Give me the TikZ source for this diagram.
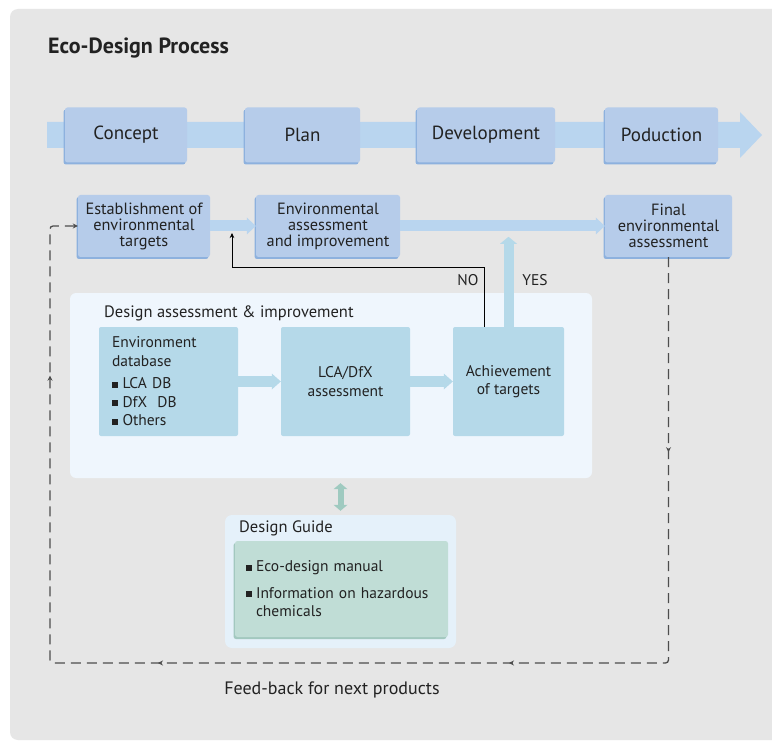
\documentclass[tikz,border=0pt]{standalone}
\usepackage{fontspec}
\setmainfont{PT Sans}
\usetikzlibrary{arrows.meta,shadows,decorations.markings}
\definecolor{bggrey}{HTML}{E6E6E6}
\definecolor{phaseblue}{HTML}{B6CCEA}
\definecolor{phaseedge}{HTML}{8DB1DE}
\definecolor{bandblue}{HTML}{B9D5EF}
\definecolor{panelblue}{HTML}{EFF6FD}
\definecolor{dbblue}{HTML}{B5D9E9}
\definecolor{guideblue}{HTML}{E5F1FA}
\definecolor{guidegreen}{HTML}{C0DDD6}
\definecolor{guideedge}{HTML}{A2C8BF}
\definecolor{linkgreen}{HTML}{9FCAC0}
\definecolor{dashgrey}{HTML}{4D4D4D}
\definecolor{ink}{HTML}{222222}
\newcommand\sqbullet{\rule[1pt]{6pt}{6pt}\hspace{4.5pt}}

\begin{document}
\begin{tikzpicture}[x=1pt,y=-1pt,
        every node/.style={text=ink, font=\fontsize{15.5}{18.5}\selectfont},
        caption/.style={anchor=west, inner sep=0pt, font=\fontsize{16.5}{19}\selectfont},
        phase/.style={fill=phaseblue, rounded corners=2.5pt, minimum height=55pt,
            drop shadow={shadow xshift=-1.5pt,shadow yshift=-2pt,fill=phaseedge,opacity=1},
            font=\fontsize{19}{22}\selectfont},
        stage/.style={phase, minimum height=62pt, align=center,
            font=\fontsize{16.3}{16}\selectfont},
        panel/.style={fill=panelblue, rounded corners=6pt},
        dbbox/.style={fill=dbblue, rounded corners=2pt, minimum height=109pt},
        guidepanel/.style={fill=guideblue, rounded corners=7pt},
        guidebox/.style={fill=guidegreen, rounded corners=2.5pt,
            drop shadow={shadow xshift=-1.5pt,shadow yshift=-2pt,fill=guideedge,opacity=1}},
        flow/.style={draw=bandblue, line width=11pt,
            -{Triangle[length=9pt,width=17pt,line width=0pt]}},
        innerflow/.style={draw=dbblue, line width=11pt,
            -{Triangle[length=9pt,width=16pt,line width=0pt]}},
        yesflow/.style={draw=dbblue, line width=10pt,
            -{Triangle[length=7pt,width=17pt,line width=0pt]}},
        linkflow/.style={draw=linkgreen, line width=6pt,
            {Triangle[length=6pt,width=14pt,line width=0pt]}-{Triangle[length=6pt,width=14pt,line width=0pt]}},
        noline/.style={draw=black, line width=0.6pt, -{Stealth[length=5pt,width=4.5pt]}},
        feedback/.style={draw=dashgrey, line width=1.3pt, dash pattern=on 10pt off 6pt,
            rounded corners=3pt, -{Stealth[length=5pt,width=5pt]}},
        fbmarks/.style={postaction={decorate}, decoration={markings,
            mark=at position 195pt with {\arrow{Stealth[length=5pt,width=5pt]}},
            mark=at position 564pt with {\arrow{Stealth[length=5pt,width=5pt]}},
            mark=at position 915pt with {\arrow{Stealth[length=5pt,width=5pt]}},
            mark=at position 1309pt with {\arrow{Stealth[length=5pt,width=5pt]}}}}]

    \useasboundingbox (0,0) rectangle (772,741);
    \fill[white] (0,0) rectangle (772,741);
    \fill[bggrey, rounded corners=8pt] (10,9) rectangle (800,740);

    \node[caption, font=\fontsize{22}{26}\selectfont\bfseries] (title) at (48,48) {Eco-Design Process};

    \fill[bandblue] (47,122) -- (740,122) -- (740,112) -- (762,135)
                    -- (740,158) -- (740,148) -- (47,148) -- cycle;
    \node[phase, minimum width=122pt] (concept) at (126,135) {Concept};
    \node[phase, minimum width=115pt] (plan) at (302.5,135) {Plan};
    \node[phase, minimum width=138pt] (devel) at (486,135) {Development};
    \node[phase, minimum width=113pt] (prod) at (661.5,135) {Poduction};

    \node[stage, minimum width=132pt] (est) at (144,226) {Establishment of\\environmental\\targets};
    \node[stage, minimum width=144pt] (enva) at (328,226) {Environmental\\assessment\\and improvement};
    \node[stage, minimum width=127pt] (final) at (668.5,226) {Final\\environmental\\assessment};
    \draw[flow] (est) -- (enva);
    \draw[flow] (enva) -- (final);

    \node[panel, minimum width=522pt, minimum height=185pt] (dai) at (331,385.5) {};
    \node[caption] (daititle) at (104,313) {Design assessment \& improvement};
    \node[dbbox, minimum width=139pt, text width=113pt, align=left] (db) at (168.5,381.5)
        {Environment\\database\\[4pt]\sqbullet LCA DB\\\sqbullet DfX\ \ DB\\\sqbullet Others};
    \node[dbbox, minimum width=129pt, align=center] (lca) at (345.5,381.5) {LCA/DfX\\assessment};
    \node[dbbox, minimum width=111pt, align=center] (ach) at (508.5,381.5) {Achievement\\of targets};
    \draw[innerflow] (db) -- (lca);
    \draw[innerflow] (lca) -- (ach);

    \coordinate (yestip) at ([yshift=90pt]ach.north);
    \coordinate (notip) at (232,233);
    \draw[yesflow] (ach.north) -- (yestip);
    \draw[noline] ([xshift=-24pt]ach.north) -- ++(0,-59) -| (notip);
    \node (no) at (468,280) {NO};
    \node (yes) at (535,280) {YES};

    \node[guidepanel, minimum width=231pt, minimum height=133pt] (guide) at (340.5,581.5) {};
    \node[caption] (guidetitle) at (239,528) {Design Guide};
    \node[guidebox, minimum width=213pt, minimum height=96pt, text width=192pt, align=left]
        (gbox) at (341.5,589)
        {\sqbullet Eco-design manual\\[8pt]\sqbullet Information on hazardous\\\hspace*{10.5pt}chemicals};
    \draw[linkflow, shorten <=5pt, shorten >=4pt] (dai.south -| guide.north) -- (guide.north);

    \coordinate (fbcorner) at (50,663);
    \draw[feedback, fbmarks] (final.south) |- (fbcorner) -- (fbcorner |- est.west) -- (est.west);
    \node[font=\fontsize{18}{21}\selectfont] (fbtext) at (332,690) {Feed-back for next products};
\end{tikzpicture}
\end{document}
